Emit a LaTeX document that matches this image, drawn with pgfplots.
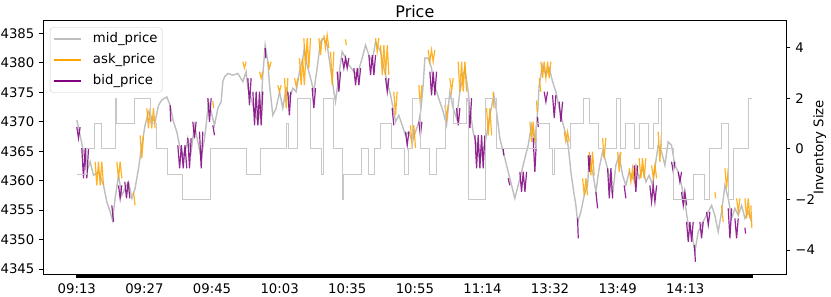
\documentclass[border=0pt]{standalone}
\usepackage{fontspec}
\setmainfont{DejaVu Sans}
\usepackage{pgfplots}
\pgfplotsset{compat=1.18}
\definecolor{midgray}{RGB}{190,190,190}
\definecolor{invgray}{RGB}{200,200,200}
\definecolor{askc}{RGB}{255,165,0}
\definecolor{bidc}{RGB}{128,0,128}
\definecolor{legframe}{RGB}{204,204,204}
\newcommand{\tfont}{\fontsize{13.3}{15}\selectfont}
\begin{document}
\begin{tikzpicture}
\begin{axis}[
  name=ax,
  scale only axis,
  width=743.7bp, height=253.3bp,
  xmin=-50, xmax=1050,
  ymin=4344.15, ymax=4387.15,
  xtick={0,100,...,900},
  xticklabels={09:13,09:27,09:45,10:03,10:35,10:55,11:14,13:32,13:49,14:13},
  minor xtick={0,1,...,999},
  ytick={4345,4350,...,4385},
  xtick pos=bottom, ytick pos=left,
  tick align=outside,
  major tick length=3.5bp, minor tick length=3.5bp,
  every tick/.style={black, line width=0.8bp},
  axis line style={black, line width=0.8bp},
  /pgf/number format/assume math mode=true,
  /pgf/number format/1000 sep={},
  yticklabel style={font=\tfont, anchor=east, inner sep=0pt, xshift=-5bp},
  xticklabel style={font=\tfont, anchor=north, inner sep=0pt, yshift=-6bp},
  title={Price},
  every axis title/.style={font=\fontsize{16}{19}\selectfont, at={(0.5,1)}, anchor=base, yshift=3.4bp, inner sep=0pt},
  unbounded coords=jump,
  legend cell align=left,
  legend style={at={(0,1)}, anchor=north west, xshift=7bp, yshift=-6.6bp,
    draw=legframe, rounded corners=3bp, fill=white, fill opacity=0.8, text opacity=1,
    font=\tfont, inner xsep=3bp, inner ysep=3.5bp, row sep=5bp, column sep=10bp,
    nodes={inner sep=1.5bp, text height=10bp, text depth=3bp}},
  legend image code/.code={\draw[#1, line width=1.3bp, opacity=1] (0bp,0bp) -- (27bp,0bp);},
]
\addplot[midgray, line width=1.4bp] coordinates {
(0,4370.3)(4.9,4367.7)(9.9,4364.9)(14.8,4361.5)(19.7,4363.2)(24.7,4360.9)(32.1,4361.5)(39.5,4359.2)(44.4,4356.4)(49.3,4354.7)(52.8,4353.3)(56.7,4357.0)(61.7,4360.9)(66.6,4357.5)(71.5,4358.7)(76.5,4359.8)(81.4,4357.0)(86.2,4358.7)(91.3,4362.1)(96.2,4366.0)(101.0,4369.4)(106.1,4371.7)(110.9,4370.6)(115.8,4370.0)(120.9,4372.8)(125.7,4373.7)(133.1,4374.2)(138.0,4372.8)(143.0,4370.0)(147.9,4368.3)(152.8,4365.5)(157.8,4364.3)(162.7,4366.0)(164.2,4367.2)(169.1,4364.9)(174.1,4369.4)(179.0,4366.6)(183.9,4363.8)(188.9,4367.2)(191.3,4369.4)(194.8,4373.4)(198.7,4371.7)(203.7,4369.4)(208.6,4372.3)(213.5,4373.4)(216.0,4376.8)(218.5,4377.6)(223.4,4378.2)(230.8,4377.9)(238.2,4378.2)(245.6,4376.8)(250.4,4378.5)(253.0,4375.7)(257.8,4374.0)(262.9,4371.7)(267.8,4370.0)(272.6,4372.8)(275.1,4377.9)(278.6,4383.0)(282.5,4380.2)(285.1,4376.2)(289.9,4371.1)(294.8,4372.3)(299.9,4375.1)(304.7,4372.3)(309.6,4375.7)(314.7,4374.0)(319.5,4375.7)(324.4,4375.1)(329.4,4378.5)(334.3,4380.8)(336.5,4382.5)(340.7,4379.6)(345.7,4377.4)(350.6,4375.1)(355.5,4379.1)(360.5,4383.6)(365.4,4384.2)(370.3,4383.0)(375.3,4379.1)(380.2,4375.1)(382.7,4373.4)(387.6,4377.9)(392.5,4381.9)(397.5,4380.8)(402.4,4379.6)(409.8,4378.5)(414.6,4377.9)(422.1,4380.8)(427.1,4383.0)(432.0,4381.3)(436.8,4380.2)(441.9,4383.6)(449.3,4381.9)(454.1,4379.1)(459.0,4376.8)(464.1,4374.5)(468.9,4371.7)(471.5,4370.0)(476.3,4371.1)(481.2,4369.4)(486.2,4367.7)(491.1,4368.3)(496.0,4366.6)(501.0,4368.3)(505.9,4370.0)(508.9,4372.0)(512.3,4376.2)(514.8,4380.8)(519.7,4380.8)(524.7,4379.1)(527.1,4376.8)(532.1,4375.1)(537.0,4373.4)(541.9,4371.7)(546.9,4369.4)(551.8,4375.1)(556.7,4372.3)(561.7,4370.6)(566.6,4375.1)(574.0,4379.1)(578.9,4375.1)(581.4,4372.3)(586.2,4368.3)(591.3,4366.0)(596.2,4363.8)(601.0,4364.9)(606.1,4367.7)(610.9,4371.1)(616.9,4374.5)(620.9,4371.7)(625.7,4367.2)(630.6,4364.9)(635.7,4362.6)(640.5,4360.4)(647.9,4357.0)(652.8,4359.2)(657.9,4361.5)(662.7,4363.8)(667.6,4366.0)(672.6,4369.4)(677.5,4366.6)(682.0,4372.3)(683.9,4376.2)(688.9,4379.6)(693.8,4377.9)(698.7,4379.1)(703.7,4376.8)(708.6,4375.1)(713.5,4372.3)(718.5,4370.0)(723.4,4367.7)(725.9,4366.6)(728.3,4364.3)(730.8,4361.5)(734.2,4358.7)(738.2,4355.8)(740.7,4353.0)(745.6,4354.7)(750.5,4357.5)(755.5,4359.2)(757.9,4363.8)(762.9,4361.5)(767.8,4358.1)(772.6,4362.1)(777.7,4364.9)(782.5,4363.2)(787.4,4360.9)(792.5,4357.5)(797.3,4362.6)(802.2,4364.3)(807.3,4360.9)(812.1,4359.2)(817.0,4361.5)(822.0,4360.4)(826.9,4362.6)(831.8,4360.4)(836.8,4362.1)(841.7,4359.8)(846.6,4360.9)(851.6,4359.2)(855.0,4362.1)(859.9,4366.0)(864.9,4364.9)(869.8,4362.6)(874.7,4366.6)(879.7,4366.0)(884.6,4362.6)(889.5,4361.5)(894.5,4359.2)(899.4,4356.4)(904.3,4352.5)(909.3,4351.3)(914.2,4347.9)(919.1,4351.3)(924.1,4352.5)(929.0,4353.6)(933.9,4354.7)(938.9,4355.8)(943.8,4354.1)(948.7,4351.3)(953.7,4354.7)(958.6,4359.2)(963.5,4357.0)(968.5,4353.6)(973.4,4355.3)(978.3,4354.1)(983.3,4355.8)(988.2,4353.6)(993.1,4354.7)(998.1,4353.0)
};
\addlegendentry{mid\_price}
\addplot[askc, opacity=0.85, line width=1.2bp] coordinates {
(27.1,4363.2)(29.6,4359.2)(32.1,4363.2)(34.6,4359.2)(37.0,4363.2)(39.5,4359.2)(39.5,nan)
(59.2,4363.2)(61.7,4360.4)(64.1,4363.2)(66.6,4360.4)(66.6,nan)
(83.9,4358.1)(86.2,4355.8)(86.2,nan)
(93.6,4367.7)(96.1,4363.8)(98.7,4367.7)(98.7,nan)
(103.6,4372.3)(106.0,4368.9)(108.5,4372.3)(110.9,4368.9)(113.4,4372.3)(115.8,4368.9)(115.8,nan)
(201.2,4373.5)(202.5,4372.3)(202.5,nan)
(245.6,4380.2)(248.0,4379.1)(250.4,4380.2)(250.4,nan)
(270.3,4378.5)(272.7,4377.4)(275.1,4378.5)(275.1,nan)
(282.5,4380.2)(285.0,4379.1)(287.4,4380.2)(287.4,nan)
(297.3,4376.2)(299.8,4375.1)(302.2,4376.2)(302.2,nan)
(307.3,4377.4)(309.7,4372.3)(312.1,4377.4)(312.1,nan)
(322.1,4377.4)(324.5,4376.0)(327.0,4377.4)(327.0,nan)
(329.4,4380.8)(331.8,4376.2)(334.1,4380.8)(336.5,4376.2)(338.8,4380.8)(338.8,nan)
(335.8,4384.2)(338.3,4379.1)(340.8,4384.2)(343.2,4379.1)(345.7,4384.2)(345.7,nan)
(358.0,4384.2)(360.5,4381.3)(362.9,4384.2)(362.9,nan)
(365.4,4384.7)(367.9,4382.5)(370.3,4384.7)(372.8,4382.5)(372.8,nan)
(375.3,4381.9)(377.8,4376.2)(380.2,4381.9)(380.2,nan)
(397.5,4384.0)(398.5,4383.0)(398.5,nan)
(441.9,4384.2)(444.3,4381.9)(446.7,4384.2)(446.7,nan)
(449.3,4383.0)(451.8,4377.9)(454.2,4383.0)(456.7,4377.9)(459.1,4383.0)(461.6,4377.9)(461.6,nan)
(468.9,4375.1)(471.4,4371.1)(473.8,4375.1)(473.8,nan)
(493.6,4369.4)(496.1,4365.5)(498.5,4369.4)(501.0,4365.5)(501.0,nan)
(505.9,4376.2)(508.2,4372.8)(510.4,4376.2)(510.4,nan)
(519.7,4382.2)(522.2,4380.2)(524.7,4382.2)(527.1,4380.2)(529.6,4382.2)(529.6,nan)
(544.4,4372.8)(546.8,4370.6)(549.2,4372.8)(549.2,nan)
(551.8,4377.4)(554.3,4375.1)(556.7,4377.4)(556.7,nan)
(564.1,4380.2)(566.6,4375.1)(569.1,4380.2)(571.5,4375.1)(574.0,4380.2)(576.5,4375.1)(576.5,nan)
(606.1,4372.3)(608.6,4367.7)(611.0,4372.3)(613.5,4367.7)(613.5,nan)
(615.8,4375.1)(617.0,4372.3)(617.0,nan)
(670.1,4370.0)(672.6,4366.6)(675.0,4370.0)(677.5,4366.6)(677.5,nan)
(680.0,4373.6)(681.0,4371.6)(681.0,nan)
(683.9,4377.4)(686.4,4375.1)(686.4,nan)
(686.4,4380.2)(688.9,4377.4)(691.3,4380.2)(693.8,4377.4)(696.3,4380.2)(698.7,4377.4)(701.2,4380.2)(701.2,nan)
(720.9,4368.3)(723.4,4366.6)(725.8,4368.3)(728.3,4366.6)(728.3,nan)
(748.1,4360.4)(750.6,4357.5)(753.0,4360.4)(755.5,4357.5)(755.5,nan)
(757.9,4364.9)(760.4,4360.9)(762.8,4364.9)(765.3,4360.9)(765.3,nan)
(777.7,4367.2)(780.1,4363.8)(782.5,4367.2)(782.5,nan)
(799.9,4364.9)(802.3,4361.5)(804.7,4364.9)(804.7,nan)
(817.0,4362.1)(819.5,4359.8)(822.0,4362.1)(824.4,4359.8)(826.9,4362.1)(826.9,nan)
(831.8,4363.8)(834.3,4360.4)(836.8,4363.8)(839.2,4360.4)(841.7,4363.8)(841.7,nan)
(850.2,4362.6)(852.7,4360.4)(855.1,4362.6)(857.6,4360.4)(857.6,nan)
(859.9,4368.3)(862.4,4363.2)(864.9,4368.3)(864.9,nan)
(943.8,4358.1)(945.0,4357.0)(945.0,nan)
(953.7,4355.8)(956.1,4353.0)(956.1,nan)
(958.6,4362.1)(961.1,4358.7)(963.5,4362.1)(963.5,nan)
(975.9,4357.0)(978.3,4354.7)(980.8,4357.0)(980.8,nan)
(988.2,4357.0)(990.7,4353.6)(993.1,4357.0)(995.6,4353.6)(995.6,nan)
(997.0,4355.8)(998.5,4351.9)
};
\addlegendentry{ask\_price}
\addplot[bidc, opacity=0.85, line width=1.2bp] coordinates {
(0,4369.1)(2.5,4367.2)(4.9,4369.1)(4.9,nan)
(7.4,4365.5)(9.9,4360.4)(12.4,4365.5)(14.8,4360.4)(17.3,4365.5)(17.3,nan)
(51.8,4355.8)(54.3,4353.0)(54.3,nan)
(61.7,4359.2)(64.1,4357.0)(66.6,4359.2)(66.6,nan)
(71.0,4359.8)(73.5,4357.0)(75.9,4359.8)(78.4,4357.0)(78.4,nan)
(138.0,4372.8)(139.0,4370.0)(139.0,nan)
(149.4,4366.0)(152.1,4362.1)(154.7,4366.0)(157.4,4362.1)(160.0,4366.0)(162.7,4362.1)(162.7,nan)
(164.2,4367.2)(166.7,4362.1)(169.1,4367.2)(169.1,nan)
(171.6,4370.0)(174.1,4367.2)(176.5,4370.0)(176.5,nan)
(181.5,4368.3)(184.0,4362.1)(186.4,4368.3)(186.4,nan)
(193.8,4374.0)(196.3,4370.0)(198.7,4374.0)(198.7,nan)
(201.2,4369.4)(203.7,4367.7)(203.7,nan)
(253.0,4377.4)(255.4,4372.8)(257.8,4377.4)(257.8,nan)
(260.4,4375.1)(262.9,4369.4)(265.3,4375.1)(267.8,4369.4)(270.2,4375.1)(272.7,4369.4)(275.1,4375.1)(275.1,nan)
(278.6,4382.5)(279.6,4380.8)(279.6,nan)
(312.1,4375.1)(314.4,4371.1)(316.6,4375.1)(316.6,nan)
(348.1,4375.7)(350.6,4372.3)(353.1,4375.7)(353.1,nan)
(385.1,4378.5)(387.6,4375.1)(390.1,4378.5)(390.1,nan)
(392.5,4380.8)(395.0,4379.1)(397.5,4380.8)(399.9,4379.1)(402.4,4380.8)(402.4,nan)
(409.8,4379.1)(412.3,4376.2)(414.8,4379.1)(417.2,4376.2)(419.7,4379.1)(419.7,nan)
(432.0,4381.3)(434.5,4377.9)(437.0,4381.3)(439.4,4377.9)(441.9,4381.3)(441.9,nan)
(456.7,4377.4)(459.2,4375.1)(461.6,4377.4)(461.6,nan)
(466.4,4372.3)(468.9,4369.4)(468.9,nan)
(486.2,4368.3)(488.7,4366.0)(491.1,4368.3)(491.1,nan)
(505.9,4370.0)(508.2,4367.7)(510.4,4370.0)(510.4,nan)
(522.2,4378.5)(524.7,4374.5)(527.2,4378.5)(529.6,4374.5)(532.1,4378.5)(532.1,nan)
(561.7,4372.3)(564.2,4369.4)(566.6,4372.3)(566.6,nan)
(578.9,4374.0)(581.4,4368.9)(583.9,4374.0)(583.9,nan)
(588.8,4367.7)(591.3,4362.1)(593.7,4367.7)(596.2,4362.1)(598.7,4367.7)(601.1,4362.1)(603.6,4367.7)(603.6,nan)
(630.6,4365.5)(631.6,4364.3)(631.6,nan)
(638.0,4360.4)(640.5,4359.2)(640.5,nan)
(655.3,4361.5)(657.8,4358.1)(660.3,4361.5)(662.8,4358.1)(665.3,4361.5)(665.3,nan)
(675.0,4367.2)(677.5,4361.5)(680.0,4367.2)(680.0,nan)
(681.5,4370.8)(682.5,4369.1)(682.5,nan)
(691.3,4375.1)(693.8,4373.4)(696.3,4375.1)(696.3,nan)
(703.7,4374.5)(706.2,4370.6)(708.6,4374.5)(708.6,nan)
(713.5,4373.4)(716.0,4370.0)(718.5,4373.4)(718.5,nan)
(740.7,4353.6)(741.7,4350.2)(741.7,nan)
(756.4,4364.3)(757.9,4361.5)(759.4,4364.3)(759.4,nan)
(767.8,4358.1)(770.3,4355.3)(770.3,nan)
(785.1,4362.1)(787.6,4357.0)(790.0,4362.1)(792.5,4357.0)(792.5,nan)
(809.6,4359.2)(812.1,4357.0)(812.1,nan)
(824.4,4362.6)(826.9,4358.1)(829.4,4362.6)(829.4,nan)
(847.6,4359.2)(850.1,4356.4)(852.6,4359.2)(855.1,4356.4)(857.6,4359.2)(857.6,nan)
(879.7,4363.2)(882.2,4361.5)(884.6,4363.2)(884.6,nan)
(889.5,4361.5)(892.0,4359.8)(894.5,4361.5)(894.5,nan)
(894.5,4358.1)(897.0,4355.8)(899.4,4358.1)(901.9,4355.8)(901.9,nan)
(901.9,4353.0)(904.4,4349.6)(906.8,4353.0)(909.3,4349.6)(911.7,4353.0)(911.7,nan)
(913.5,4349.1)(915.0,4346.2)(915.0,nan)
(921.6,4353.0)(924.1,4350.2)(926.5,4353.0)(926.5,nan)
(931.5,4354.7)(934.0,4352.5)(936.4,4354.7)(936.4,nan)
(963.5,4355.3)(966.0,4350.2)(968.5,4355.3)(968.5,nan)
(973.4,4353.6)(975.9,4350.2)(978.3,4353.6)(978.3,nan)
(988.2,4352.0)(989.2,4351.0)
};
\addlegendentry{bid\_price}
\end{axis}
\begin{axis}[
  scale only axis,
  width=743.7bp, height=253.3bp,
  xmin=-50, xmax=1050, ymin=-4.95, ymax=5.06,
  axis x line=none,
  axis y line*=right,
  ytick={-4,-2,0,2,4},
  yticklabels={−4,−2,0,2,4},
  tick align=outside,
  major tick length=3.5bp,
  every tick/.style={black, line width=0.8bp},
  axis line style={black, line width=0.8bp},
  yticklabel style={font=\tfont, anchor=west, inner sep=0pt, xshift=5bp},
  ylabel={Inventory Size},
  every axis y label/.style={at={(rel axis cs:1,0.5)}, rotate=90, anchor=north, inner sep=0pt, yshift=-26.5bp, font=\tfont},
]
\addplot[const plot, invgray, line width=1bp] coordinates {
(0,-1)(14.8,0)(26.6,1)(37.0,0)(57.7,2)(59.2,1)(85.8,2)(109.5,1)(118.3,0)(134.6,-1)(156.8,-2)(197.8,0)(250.4,-1)(271.2,0)(309.6,1)(312.6,0)(326.9,2)(345.7,0)(362.4,-1)(364.4,2)(380.2,0)(392.5,-1)(393.5,-2)(394.5,-1)(420.6,0)(430.9,-1)(440.8,0)(449.3,1)(464.9,0)(485.2,-1)(490.1,0)(496.0,2)(508.9,0)(522.2,-1)(532.1,0)(545.9,2)(556.7,1)(576.5,2)(579.9,-2)(604.6,2)(620.9,0)(680.5,1)(699.7,0)(704.2,-1)(706.4,0)(730.8,1)(749.0,2)(758.9,1)(771.2,0)(798.4,2)(804.3,0)(812.1,1)(825.4,0)(832.9,1)(845.1,0)(852.5,1)(859.9,2)(864.9,0)(882.1,-2)(911.7,-1)(929.0,-2)(936.4,0)(953.7,1)(963.5,-2)(970.9,0)(993.1,2)(998.5,2)
};
\end{axis}
\pgfresetboundingbox
\path[use as bounding box] ([xshift=-43bp,yshift=-23bp]ax.south west) rectangle ([xshift=44.3bp,yshift=20.7bp]ax.north east);
\end{tikzpicture}
\end{document}
